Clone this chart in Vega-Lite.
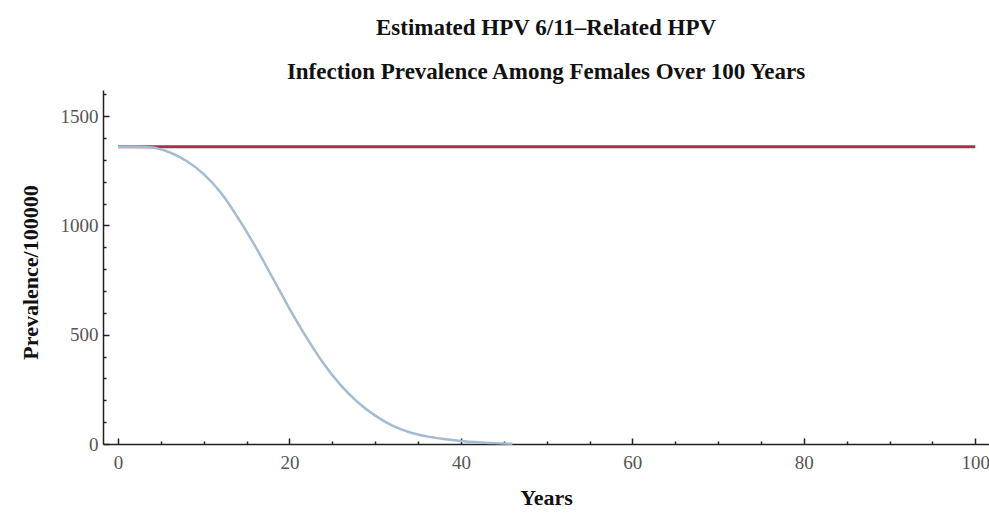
{
  "$schema": "https://vega.github.io/schema/vega-lite/v6.json",
  "width": 886,
  "height": 354,
  "autosize": "none",
  "padding": {"left": 103, "top": 90, "right": 0, "bottom": 69},
  "background": "white",
  "config": {"view": {"stroke": null}},
  "title": {
    "text": ["Estimated HPV 6/11–Related HPV", "Infection Prevalence Among Females Over 100 Years"],
    "font": "Liberation Serif",
    "fontSize": 23,
    "fontWeight": "bold",
    "color": "#111111",
    "lineHeight": 44,
    "anchor": "middle",
    "offset": 6
  },
  "datasets": {
    "curves": [
      {"year": 0, "value": 1360, "series": "No vaccination"},
      {"year": 100, "value": 1360, "series": "No vaccination"},
      {"year": 0, "value": 1360, "series": "Vaccination"},
      {"year": 2, "value": 1360, "series": "Vaccination"},
      {"year": 4, "value": 1357, "series": "Vaccination"},
      {"year": 6, "value": 1335, "series": "Vaccination"},
      {"year": 8, "value": 1295, "series": "Vaccination"},
      {"year": 10, "value": 1235, "series": "Vaccination"},
      {"year": 12, "value": 1150, "series": "Vaccination"},
      {"year": 14, "value": 1035, "series": "Vaccination"},
      {"year": 16, "value": 905, "series": "Vaccination"},
      {"year": 18, "value": 763, "series": "Vaccination"},
      {"year": 20, "value": 620, "series": "Vaccination"},
      {"year": 22, "value": 487, "series": "Vaccination"},
      {"year": 24, "value": 367, "series": "Vaccination"},
      {"year": 26, "value": 268, "series": "Vaccination"},
      {"year": 28, "value": 190, "series": "Vaccination"},
      {"year": 30, "value": 130, "series": "Vaccination"},
      {"year": 32, "value": 84, "series": "Vaccination"},
      {"year": 34, "value": 54, "series": "Vaccination"},
      {"year": 36, "value": 35, "series": "Vaccination"},
      {"year": 38, "value": 23, "series": "Vaccination"},
      {"year": 40, "value": 14, "series": "Vaccination"},
      {"year": 42, "value": 8, "series": "Vaccination"},
      {"year": 44, "value": 4, "series": "Vaccination"},
      {"year": 46, "value": 1, "series": "Vaccination"}
    ]
  },
  "data": {"name": "curves"},
  "encoding": {
    "x": {
      "field": "year",
      "type": "quantitative",
      "scale": {"domain": [-1.75, 101.6], "nice": false, "zero": false},
      "axis": {
        "title": "Years",
        "values": [0, 5, 10, 15, 20, 25, 30, 35, 40, 45, 50, 55, 60, 65, 70, 75, 80, 85, 90, 95, 100],
        "labelExpr": "datum.value % 20 === 0 ? datum.label : ''",
        "grid": false,
        "domainColor": "#222222",
        "domainWidth": 1.5,
        "tickColor": "#222222",
        "tickWidth": 1.5,
        "tickSize": {"condition": {"test": "datum.value % 20 === 0", "value": -6}, "value": -3},
        "labelFont": "Liberation Serif",
        "labelFontSize": 19,
        "labelColor": "#555555",
        "labelPadding": 15,
        "titleFont": "Liberation Serif",
        "titleFontSize": 22,
        "titleFontWeight": "bold",
        "titleColor": "#111111",
        "titleBaseline": "middle",
        "titleY": 53
      }
    },
    "y": {
      "field": "value",
      "type": "quantitative",
      "scale": {"domain": [0, 1620], "nice": false},
      "axis": {
        "title": "Prevalence/100000",
        "values": [0, 100, 200, 300, 400, 500, 600, 700, 800, 900, 1000, 1100, 1200, 1300, 1400, 1500, 1600],
        "labelExpr": "datum.value % 500 === 0 ? datum.label : ''",
        "format": "d",
        "grid": false,
        "domainColor": "#222222",
        "domainWidth": 1.5,
        "tickColor": "#222222",
        "tickWidth": 1.5,
        "tickSize": {"condition": {"test": "datum.value % 500 === 0", "value": -6}, "value": -3},
        "labelFont": "Liberation Serif",
        "labelFontSize": 19,
        "labelColor": "#555555",
        "labelPadding": 11,
        "titleFont": "Liberation Serif",
        "titleFontSize": 22,
        "titleFontWeight": "bold",
        "titleColor": "#111111",
        "titleAngle": -90,
        "titleAlign": "center",
        "titleBaseline": "middle",
        "titleX": -73,
        "titleY": 182
      }
    }
  },
  "layer": [
    {
      "transform": [{"filter": "datum.series === 'No vaccination'"}],
      "mark": {"type": "line", "color": "#a8304c", "strokeWidth": 3}
    },
    {
      "transform": [{"filter": "datum.series === 'Vaccination'"}],
      "mark": {"type": "line", "color": "#a5bbd1", "strokeWidth": 2.5, "interpolate": "monotone"}
    }
  ]
}
